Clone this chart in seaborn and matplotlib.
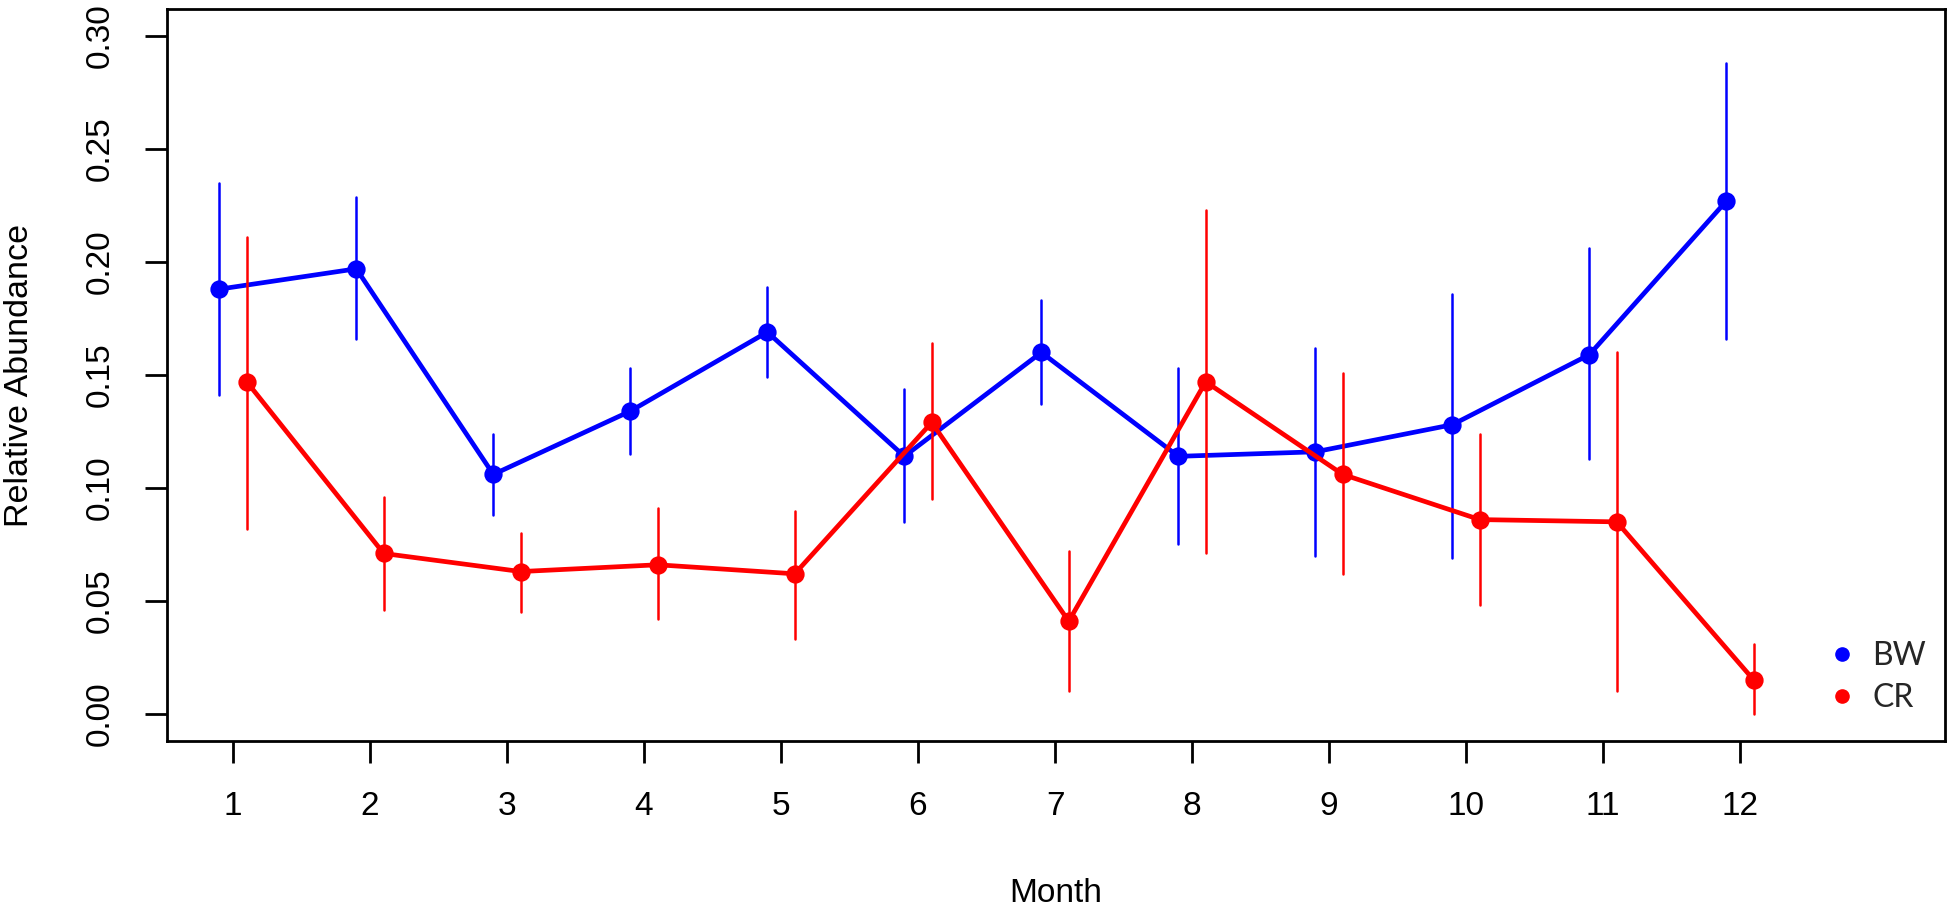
import numpy as np
import pandas as pd
import matplotlib
matplotlib.use("Agg")
import matplotlib.pyplot as plt
from matplotlib.lines import Line2D
import seaborn as sns

# ---- data ----
months = list(range(1, 13))
sites = ["BW", "CR"]

bw_mean = [0.188, 0.197, 0.106, 0.134, 0.169, 0.114, 0.160, 0.114, 0.116, 0.128, 0.159, 0.227]
bw_low  = [0.141, 0.166, 0.088, 0.115, 0.149, 0.085, 0.137, 0.075, 0.070, 0.069, 0.113, 0.166]
bw_high = [0.235, 0.229, 0.124, 0.153, 0.189, 0.144, 0.183, 0.153, 0.162, 0.186, 0.206, 0.288]

cr_mean = [0.147, 0.071, 0.063, 0.066, 0.062, 0.129, 0.041, 0.147, 0.106, 0.086, 0.085, 0.015]
cr_low  = [0.082, 0.046, 0.045, 0.042, 0.033, 0.095, 0.010, 0.071, 0.062, 0.048, 0.010, 0.000]
cr_high = [0.211, 0.096, 0.080, 0.091, 0.090, 0.164, 0.072, 0.223, 0.151, 0.124, 0.160, 0.031]

y_ticks = [0.00, 0.05, 0.10, 0.15, 0.20, 0.25, 0.30]
y_tick_labels = ["0.00", "0.05", "0.10", "0.15", "0.20", "0.25", "0.30"]

colors = {"BW": "#0000FF", "CR": "#FF0000"}

# long table: low / mean / high per point -> median = mean, min/max = error bar
rows = []
for site, lo_s, m_s, hi_s in [("BW", bw_low, bw_mean, bw_high), ("CR", cr_low, cr_mean, cr_high)]:
    for mo, lo, m, hi in zip(months, lo_s, m_s, hi_s):
        rows += [(mo, site, lo), (mo, site, m), (mo, site, hi)]
df = pd.DataFrame(rows, columns=["Month", "Site", "Abundance"])

sns.set_theme(style="ticks")
plt.rcParams["font.family"] = ["Liberation Sans", "DejaVu Sans"]

W, H = 1950, 908
fig = plt.figure(figsize=(W / 100, H / 100), dpi=100)
L, R, T, B = 167, 1945, 9, 741
ax = fig.add_axes([L / W, 1 - B / H, (R - L) / W, (B - T) / H])

sns.pointplot(
    data=df, x="Month", y="Abundance", hue="Site", hue_order=sites,
    palette=colors, estimator="median",
    errorbar=lambda v: (v.min(), v.max()),
    dodge=0.2, markers="o", markersize=10.6, linewidth=3.4,
    err_kws={"linewidth": 1.8}, ax=ax, legend=False,
)

ax.set_xlim(-0.482, 12.496)
ax.set_ylim(-0.012, 0.312)
ax.set_yticks(y_ticks)
ax.set_yticklabels(y_tick_labels, rotation=90, va="center")

for s in ax.spines.values():
    s.set_linewidth(2.0)
    s.set_color("black")
    s.set_visible(True)
ax.tick_params(axis="both", length=15.8, width=2.0, color="black",
               labelsize=24, labelcolor="black")
ax.tick_params(axis="x", pad=20)
ax.tick_params(axis="y", pad=21)

ax.set_xlabel("Month", fontsize=24, color="black")
ax.set_ylabel("Relative Abundance", fontsize=24.5, color="black")
ax.xaxis.set_label_coords(0.5, (B - 893) / (B - T))
ax.xaxis.label.set_va("center")
ax.yaxis.set_label_coords((20 - L) / (R - L), 0.5)
ax.yaxis.label.set_va("center")
ax.grid(False)

handles = [Line2D([], [], marker="o", linestyle="", color=colors[s], markersize=9.5) for s in sites]
ax.legend(handles, sites, loc="lower right", frameon=False,
          bbox_to_anchor=((1926 - L) / (R - L), (B - 713) / (B - T)),
          borderaxespad=0, borderpad=0, handlelength=1.0, handletextpad=0.44,
          labelspacing=0.37, prop={"family": ["Lato", "DejaVu Sans"], "size": 23})

fig.savefig("out.png", dpi=100, facecolor="white")
